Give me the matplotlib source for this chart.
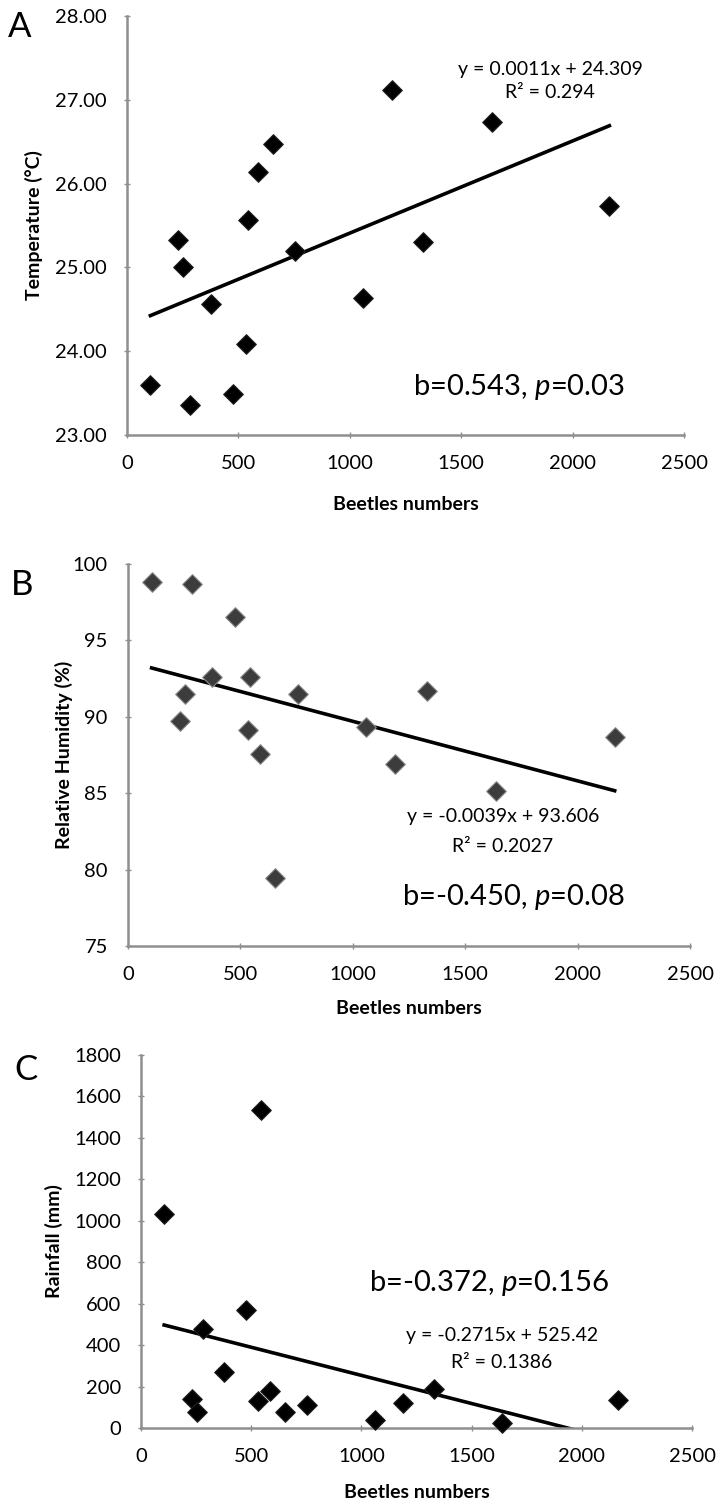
#!/usr/bin/env python3

"""
Beetle numbers vs temperature, relative humidity and rainfall"""

import matplotlib.pyplot as plt
import numpy as np

plt.rcParams['font.family'] = ['Lato', 'DejaVu Sans']
plt.rcParams['mathtext.fontset'] = 'custom'
plt.rcParams['mathtext.rm'] = 'Lato'
plt.rcParams['mathtext.it'] = 'Lato:italic'

beetles = [105, 230, 253, 283, 375, 478, 533, 543, 587, 655, 755, 1060, 1188, 1330, 1638, 2165]
temperature = [23.60, 25.33, 25.00, 23.36, 24.56, 23.49, 24.09, 25.56, 26.14, 26.47, 25.20,
               24.63, 27.12, 25.30, 26.74, 25.73]
humidity = [98.85, 89.72, 91.46, 98.69, 92.59, 96.56, 89.11, 92.59, 87.58, 79.46, 91.46,
            89.32, 86.93, 91.68, 85.14, 88.67]
rainfall = [1035, 138, 77, 478, 269, 570, 128, 1535, 178, 77, 109, 37, 122, 189, 24, 133]

# trendline coefficients (slope, intercept) as printed on the chart
slopes = [0.0011, -0.0039, -0.2715]
intercepts = [24.309, 93.606, 525.42]
r_squared = ["0.294", "0.2027", "0.1386"]
stats = ["b=0.543, $\\it{p}$=0.03", "b=-0.450, $\\it{p}$=0.08", "b=-0.372, $\\it{p}$=0.156"]

W, H = 717, 1505
fig = plt.figure(figsize=(W / 100, H / 100), dpi=100)

# panel boxes in pixels: left, top, right, bottom
boxes = [(127, 16, 684, 435), (128, 564, 690, 946), (141, 1055, 692, 1428)]
ylabels = ["Temperature (°C)", "Relative Humidity (%)", "Rainfall (mm)"]
ylims = [(23, 28), (75, 100), (0, 1800)]
yticks = [np.arange(23, 28.1, 1), np.arange(75, 101, 5), np.arange(0, 1801, 200)]
yfmt = ["{:.2f}", "{:.0f}", "{:.0f}"]
ydata = [temperature, humidity, rainfall]
mcolors = ["black", "#3c3c3c", "black"]
ecolors = ["#222222", "#8a8a8a", "#222222"]
letters = ["A", "B", "C"]
letter_pos = [(20, 27), (22, 585), (26, 1070)]
ylabel_x = [34, 64, 54]
eq_pos = [(550, 70, 92), (503, 817, 846), (502, 1335, 1362)]
stat_pos = [(519, 387), (513, 897), (489, 1283)]
xlabel_y = [505, 1008, 1492]

for i in range(3):
    l, t, r, b = boxes[i]
    ax = fig.add_axes([l / W, 1 - b / H, (r - l) / W, (b - t) / H])
    ax.scatter(beetles, ydata[i], marker="D", s=100, color=mcolors[i],
               edgecolor=ecolors[i], linewidth=0.8, zorder=3, clip_on=False)
    xs = np.array([min(beetles), max(beetles)])
    ax.plot(xs, slopes[i] * xs + intercepts[i], color="black", lw=2.6, zorder=2)
    ax.set_xlim(0, 2500)
    ax.set_ylim(*ylims[i])
    ax.set_xticks(np.arange(0, 2501, 500))
    ax.set_yticks(yticks[i])
    ax.set_yticklabels([yfmt[i].format(v) for v in yticks[i]])
    for s in ["top", "right"]:
        ax.spines[s].set_visible(False)
    for s in ["left", "bottom"]:
        ax.spines[s].set_color("#8f8f8f")
        ax.spines[s].set_linewidth(1.8)
    ax.tick_params(direction="inout", length=5, width=1, color="#8f8f8f",
                   labelsize=14.5, pad=12)
    ax.set_facecolor("none")

    eq = "y = {}x + {}".format(slopes[i], intercepts[i])
    ex, ey, ry = eq_pos[i]
    fig.text(ex / W, 1 - ey / H, eq, ha="center", va="center", fontsize=14)
    fig.text(ex / W, 1 - ry / H, "R² = " + r_squared[i], ha="center", va="center",
             fontsize=14)
    sx, sy = stat_pos[i]
    fig.text(sx / W, 1 - sy / H, stats[i], ha="center", va="center", fontsize=21)

    fig.text(letter_pos[i][0] / W, 1 - letter_pos[i][1] / H, letters[i], fontsize=25,
             ha="center", va="center")
    fig.text(ylabel_x[i] / W, 1 - (t + b) / 2 / H, ylabels[i], rotation=90,
             fontsize=14, fontweight="bold", ha="center", va="center")
    fig.text((l + r) / 2 / W, 1 - xlabel_y[i] / H, "Beetles numbers", fontsize=14,
             fontweight="bold", ha="center", va="center")

plt.savefig("out.png", dpi=100)
plt.close()
